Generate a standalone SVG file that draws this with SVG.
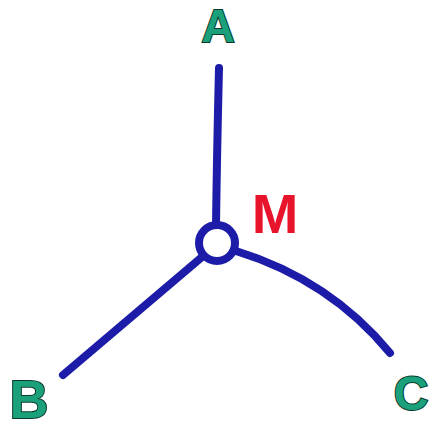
<svg xmlns="http://www.w3.org/2000/svg" width="435" height="429" viewBox="0 0 435 429">
<style>
.edge{fill:none;stroke:#1c1ca8;stroke-width:8;stroke-linecap:round;stroke-linejoin:round}
.lbl{font-family:"Liberation Sans",Arial,sans-serif;font-weight:bold;fill:#1aa07a;stroke:#0b3a2c;stroke-width:2;paint-order:stroke;text-anchor:middle}
.m{font-family:"Liberation Sans",Arial,sans-serif;font-weight:bold;fill:#e8142c;text-anchor:middle}
</style>
<rect width="435" height="429" fill="#ffffff"/>
<g id="connectors">
<path class="edge" d="M219,68 Q217,150 216,225"/>
<path class="edge" d="M202,257 L63,375"/>
<path class="edge" d="M236,251 Q330,280 390,353"/>
</g>
<g id="M">
<circle cx="217" cy="243" r="18" fill="#ffffff" stroke="#1c1ca8" stroke-width="8"/>
<text class="m" x="275" y="233" font-size="56">M</text>
</g>
<g id="A"><text class="lbl" x="218" y="42" font-size="46">A</text></g>
<g id="B"><text class="lbl" x="29" y="418" font-size="54">B</text></g>
<g id="C"><text class="lbl" x="411" y="410" font-size="48">C</text></g>
</svg>
